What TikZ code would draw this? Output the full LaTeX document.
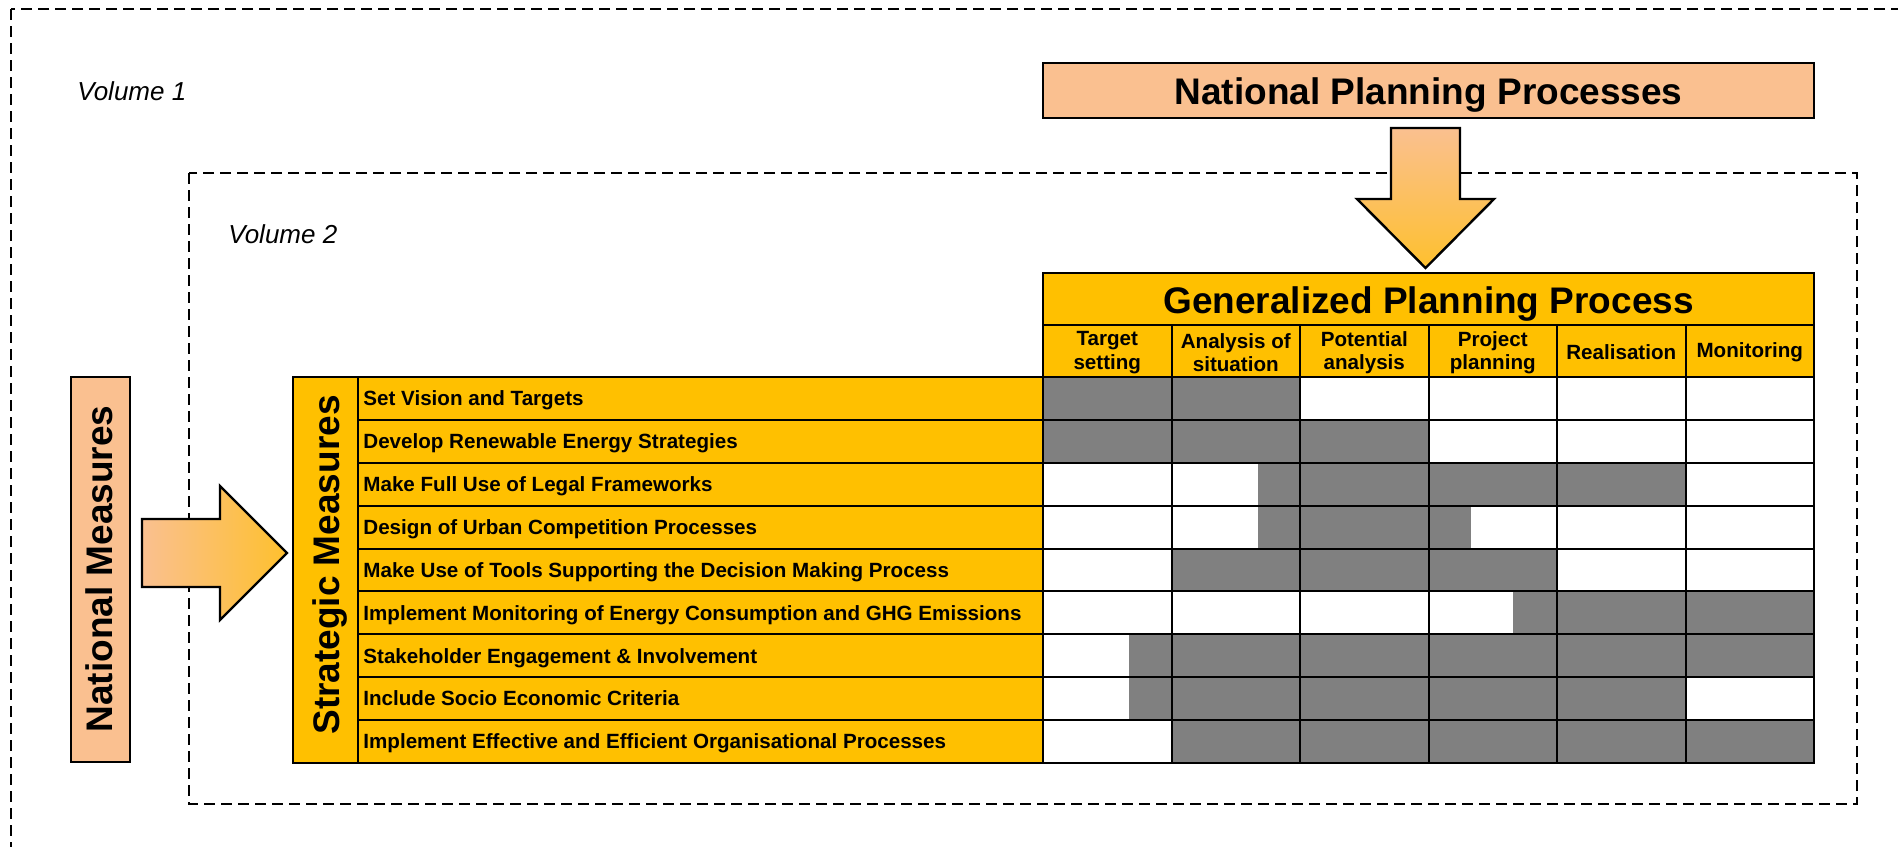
\documentclass[tikz,border=0pt]{standalone}
\usepackage{fontspec}
\setmainfont{Liberation Sans}
\usepackage{tikz}
\usetikzlibrary{positioning,calc}
\definecolor{gppyellow}{HTML}{FFC000}
\definecolor{nppeach}{HTML}{FAC090}
\definecolor{arrowend}{HTML}{FEC02E}
\definecolor{cellgray}{HTML}{808080}

\begin{document}
\begin{tikzpicture}[x=0.5pt, y=-0.5pt,
    frame/.style={dash pattern=on 5.5pt off 3pt, line width=1.4pt},
    edge/.style={draw=black, line width=1.2pt},
    grid/.style={draw=black, line width=1pt},
    big/.style={font=\bfseries\fontsize{18.5}{22}\selectfont, inner sep=0pt},
    small/.style={font=\bfseries\fontsize{10.3}{11.6}\selectfont, inner sep=0pt},
    vol/.style={font=\itshape\fontsize{13}{15}\selectfont, inner sep=0pt}]
  \useasboundingbox (0,0) rectangle (1898,846);

  % Volumes
  \draw[frame] (11,9) rectangle (1930,880);
  \draw[frame] (189,173) rectangle (1857,804);
  \node[vol, anchor=base west] (vol1) at (77,100) {Volume 1};
  \node[vol, anchor=base west] (vol2) at (228,243) {Volume 2};

  % National planning processes
  \draw[edge, fill=nppeach] (1043,63) rectangle (1814,118);
  \node[big, anchor=base] (npp) at (1428.5,104) {National Planning Processes};

  % Down arrow
  \coordinate (dtop) at (1425.5,128);
  \coordinate (dtip) at (1425.5,268);
  \draw[edge, top color=nppeach, bottom color=arrowend]
    ($(dtop)+(-34.5,0)$) -- ++(69,0) -- ++(0,71) -- ++(34,0) -- (dtip)
    -- ++(-68.5,-69) -- ++(34,0) -- cycle;

  % National measures
  \draw[edge, fill=nppeach] (71,377) rectangle (130,762);
  \node[big, rotate=90, anchor=base] (natm) at (112,569) {National Measures};

  % Right arrow
  \coordinate (rtail) at (142,553);
  \coordinate (rtip) at (287,553);
  \draw[edge, left color=nppeach, right color=arrowend]
    ($(rtail)+(0,-34)$) -- ++(78,0) -- ++(0,-33) -- (rtip)
    -- ++(-67,67) -- ++(0,-33) -- ++(-78,0) -- cycle;

  % Strategic measures
  \fill[gppyellow] (293,377) rectangle (1043,763);
  \node[big, rotate=90, anchor=base] (strat) at (339,565) {Strategic Measures};
  \foreach \lbl [count=\r] in {Set Vision and Targets,
      Develop Renewable Energy Strategies,
      Make Full Use of Legal Frameworks,
      Design of Urban Competition Processes,
      Make Use of Tools Supporting the Decision Making Process,
      Implement Monitoring of Energy Consumption and GHG Emissions,
      Stakeholder Engagement \& Involvement,
      Include Socio Economic Criteria,
      Implement Effective and Efficient Organisational Processes}
    \node[small, anchor=base west] (row\r) at (363,{377+42.875*(\r-0.5)+7.4}) {\lbl};

  % Generalized planning process
  \fill[gppyellow] (1043,273) rectangle (1814,377);
  \node[big, anchor=base] (gpp) at (1428.5,313) {Generalized Planning Process};
  \foreach \hd [count=\c] in {Target\\setting, Analysis of\\situation,
      Potential\\analysis, Project\\planning, Realisation, Monitoring}
    \node[small, align=center] (col\c) at ({1043+128.5*(\c-0.5)},352.5) {\hd};

  % Cells
  \fill[white] (1043,377) rectangle (1814,763);
  \foreach \r/\a/\b in {1/0/2, 2/0/3, 3/1.67/5, 4/1.67/3.33, 5/1/4,
      6/3.66/6, 7/0.67/6, 8/0.67/5, 9/1/6}
    \fill[cellgray] ({1043+128.5*\a},{377+42.875*(\r-1)})
      rectangle ({1043+128.5*\b},{377+42.875*\r});

  % Lines
  \foreach \r in {1,...,8}
    \draw[grid] (358,{377+42.875*\r}) -- (1814,{377+42.875*\r});
  \draw[grid] (1043,325) -- (1814,325);
  \draw[grid] (1043,377) -- (1814,377);
  \foreach \c in {1,...,5}
    \draw[grid] ({1043+128.5*\c},325) -- ({1043+128.5*\c},763);
  \draw[grid] (358,377) -- (358,763);
  \draw[edge] (1043,273) rectangle (1814,763);
  \draw[edge] (293,377) rectangle (1043,763);
\end{tikzpicture}
\end{document}
